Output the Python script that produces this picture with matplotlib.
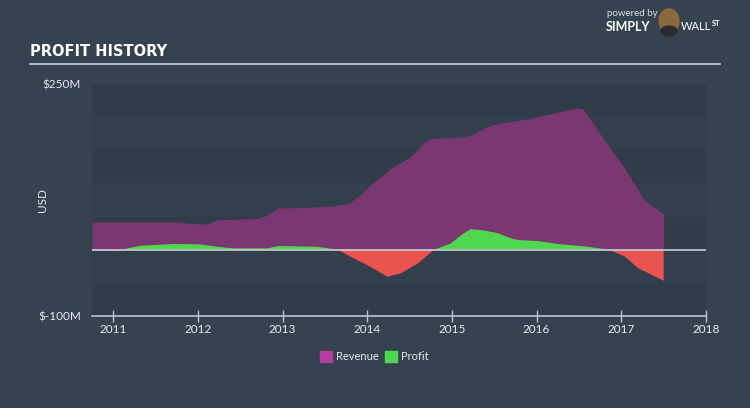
import matplotlib
matplotlib.use("Agg")
import matplotlib.pyplot as plt
from matplotlib.patches import Rectangle, Ellipse
import numpy as np

# ---- data (USD millions) ----
rev_t = [2010.75, 2011.76, 2012.0, 2012.11, 2012.23, 2012.70, 2012.78, 2012.95, 2013.21,
         2013.60, 2013.78, 2013.95, 2014.04, 2014.16, 2014.28, 2014.51, 2014.69, 2014.79,
         2015.14, 2015.22, 2015.46, 2015.62, 2015.93, 2016.33, 2016.49, 2016.55, 2016.73,
         2017.04, 2017.27, 2017.50]
rev_v = [42, 42, 39, 39, 45, 47, 50, 63, 63.5,
         66, 70, 86, 98, 110, 123, 140, 164, 168,
         170, 172.5, 188, 192, 198, 210, 214, 212, 178,
         123, 75, 54]

prof_t = [2010.75, 2011.05, 2011.17, 2011.32, 2011.71, 2012.03, 2012.23, 2012.42, 2012.82,
          2012.95, 2013.41, 2013.65, 2013.84, 2014.04, 2014.24, 2014.40, 2014.60, 2014.79,
          2014.99, 2015.11, 2015.22, 2015.38, 2015.54, 2015.70, 2015.78, 2016.02, 2016.25,
          2016.61, 2016.85, 2017.04, 2017.20, 2017.36, 2017.50]
prof_v = [-1, -2, 2, 6, 8.6, 8, 4.5, 2, 2,
          5.6, 4.5, 0, -13, -26, -40.7, -35.6, -20.5, 0,
          9.6, 22, 31, 29, 25, 17, 14.6, 13, 8.6,
          4.5, 0, -10, -28, -38, -47]

year_ticks = [2011, 2012, 2013, 2014, 2015, 2016, 2017, 2018]
y_ticks = [-100, 250]
y_labels = ["$-100M", "$250M"]

# ---- style ----
FIG_BG = "#354250"
BAND_DARK = "#303c49"
BAND_LIGHT = "#333f4d"
REV_C = "#7b3772"
PROF_C = "#4fd84f"
LOSS_C = "#ea534f"
AXIS_C = "#b9c6d2"
TXT_C = "#e6ebf0"
FONT = ["Lato", "DejaVu Sans"]

fig = plt.figure(figsize=(7.5, 4.08), dpi=100, facecolor=FIG_BG)
ax = fig.add_axes([92/750, 1-316/408, (706-92)/750, (316-84)/408])
ax.set_facecolor(BAND_LIGHT)
ax.set_xlim(2010.75, 2018.0)
ax.set_ylim(-100, 250)

# background bands
for lo in (200, 100, 0, -100):
    ax.axhspan(lo, lo+50, color=BAND_DARK, lw=0, zorder=0)

ax.fill_between(rev_t, 0, rev_v, color=REV_C, lw=0, zorder=2)
pt = np.array(prof_t); pv = np.array(prof_v)
ax.fill_between(pt, 0, pv, where=pv >= 0, interpolate=True, color=PROF_C, lw=0, zorder=3)
ax.fill_between(pt, 0, pv, where=pv <= 0, interpolate=True, color=LOSS_C, lw=0, zorder=3)
ax.axhline(0, color="#c5ced8", lw=1.2, zorder=4)

for s in ("top", "right", "left"):
    ax.spines[s].set_visible(False)
ax.spines["bottom"].set_color(AXIS_C)
ax.spines["bottom"].set_linewidth(1.2)
ax.set_xticks(year_ticks)
ax.set_xticklabels([str(y) for y in year_ticks], fontfamily=FONT, fontsize=8.5, color=TXT_C)
ax.tick_params(axis="x", direction="inout", length=8, width=1, color=AXIS_C, pad=2)
ax.set_yticks(y_ticks)
ax.set_yticklabels(y_labels, fontfamily=FONT, fontsize=8.5, color=TXT_C)
ax.tick_params(axis="y", length=0, pad=8)
ax.set_ylabel("USD", fontfamily=FONT, fontsize=8.5, color=TXT_C)
ax.yaxis.set_label_coords(-0.072, 0.5)

# title
fig.text(30/750, 1-52/408, "PROFIT HISTORY", fontfamily=["Liberation Sans Narrow", "DejaVu Sans"],
         fontweight="bold", fontsize=10.5, color="white", va="center", ha="left")
fig.add_artist(plt.Line2D([30/750, 720/750], [1-63.5/408, 1-63.5/408], color="#c8d6e4", lw=1.2))

# logo
fig.text(607/750, 1-14/408, "powered by", fontfamily=FONT, fontsize=7, color="#d8dee5", va="center")
fig.text(606/750, 1-27/408, "SIMPLY", fontfamily=FONT, fontsize=9, fontweight="bold", color="white", va="center")
fig.add_artist(Ellipse((669/750, 1-21/408), 20/750, 24/408, color="#8a6a3a"))
fig.add_artist(Ellipse((669/750, 1-31/408), 16/750, 10/408, color="#2a2a30"))
fig.text(681/750, 1-27/408, "WALL", fontfamily=FONT, fontsize=8, color="white", va="center")
fig.text(712/750, 1-24/408, "ST", fontfamily=FONT, fontsize=5.5, fontweight="bold", color="white", va="center")

# legend
fig.add_artist(Rectangle((320/750, 1-362/408), 12/750, 11/408, color="#b73d9c"))
fig.text(336/750, 1-356/408, "Revenue", fontfamily=FONT, fontsize=8, color=TXT_C, va="center")
fig.add_artist(Rectangle((385/750, 1-362/408), 12/750, 11/408, color=PROF_C))
fig.text(401/750, 1-356/408, "Profit", fontfamily=FONT, fontsize=8, color=TXT_C, va="center")

fig.savefig("out.png", dpi=100, facecolor=FIG_BG)
